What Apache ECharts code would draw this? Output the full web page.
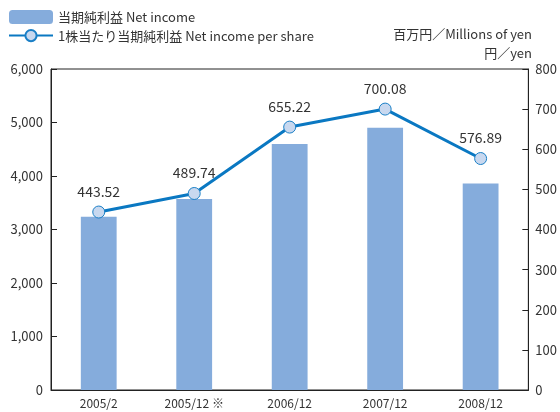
<!DOCTYPE html>
<html>
<head>
<meta charset="utf-8">
<script src="https://cdn.jsdelivr.net/npm/echarts@6/dist/echarts.min.js"></script>
<style>
  html, body { margin: 0; padding: 0; background: #fff; }
  #chart { width: 560px; height: 412px; }
</style>
</head>
<body>
<div id="chart"></div>
<script>
// 決算期
var categories = ['2005/2', '2005/12 ※', '2006/12', '2007/12', '2008/12'];
// 当期純利益（百万円）
var netIncome = [3240, 3570, 4600, 4900, 3860];
// 1株当たり当期純利益（円）
var perShare = [443.52, 489.74, 655.22, 700.08, 576.89];

var FONT = '"Liberation Sans Narrow", "Arial Narrow", "Noto Sans CJK JP", sans-serif';
var TEXT = '#333';

var chart = echarts.init(document.getElementById('chart'));

var option = {
  animation: false,
  textStyle: { fontFamily: FONT },
  legend: {
    orient: 'vertical',
    left: 8,
    top: 10,
    padding: 0,
    itemWidth: 44,
    itemHeight: 14,
    itemGap: 5,
    textStyle: { fontFamily: FONT, fontSize: 13, color: TEXT },
    data: ['当期純利益 Net income', '1株当たり当期純利益 Net income per share']
  },
  graphic: [
    {
      type: 'text', right: 28, top: 28,
      style: { text: '百万円／Millions of yen', font: '13px ' + FONT, fill: TEXT }
    },
    {
      type: 'text', right: 28, top: 47,
      style: { text: '円／yen', font: '13px ' + FONT, fill: TEXT }
    }
  ],
  grid: {
    left: 51, right: 29, top: 69, bottom: 22,
    show: true, borderColor: '#222', borderWidth: 1
  },
  xAxis: {
    type: 'category',
    data: categories,
    axisLine: { lineStyle: { color: '#222' } },
    axisTick: { show: false },
    axisLabel: { color: TEXT, fontSize: 12, margin: 7, fontFamily: FONT }
  },
  yAxis: [
    {
      type: 'value', min: 0, max: 6000, interval: 1000,
      axisLine: { show: true, lineStyle: { color: '#222' } },
      axisTick: { show: true, inside: true, length: 6, lineStyle: { color: '#222' } },
      splitLine: { show: false },
      axisLabel: {
        color: TEXT, fontSize: 13, margin: 8, fontFamily: FONT,
        formatter: function (v) { return v.toLocaleString('en-US'); }
      }
    },
    {
      type: 'value', min: 0, max: 800, interval: 100,
      axisLine: { show: true, lineStyle: { color: '#222' } },
      axisTick: { show: true, inside: true, length: 6, lineStyle: { color: '#222' } },
      splitLine: { show: false },
      axisLabel: { color: TEXT, fontSize: 13, margin: 7, fontFamily: FONT }
    }
  ],
  series: [
    {
      name: '当期純利益 Net income',
      type: 'bar',
      yAxisIndex: 0,
      barWidth: '37.5%',
      itemStyle: { color: '#85acdc' },
      data: netIncome
    },
    {
      name: '1株当たり当期純利益 Net income per share',
      type: 'line',
      yAxisIndex: 1,
      symbol: 'circle',
      symbolSize: 12,
      lineStyle: { color: '#0a78c2', width: 3 },
      itemStyle: { color: '#c8d8ef', borderColor: '#1a7fc6', borderWidth: 1 },
      label: {
        show: true, position: 'top', distance: 7,
        color: TEXT, fontSize: 14, fontFamily: FONT,
        formatter: function (p) { return p.value.toFixed(2); }
      },
      data: perShare
    }
  ]
};

chart.setOption(option);
</script>
</body>
</html>
